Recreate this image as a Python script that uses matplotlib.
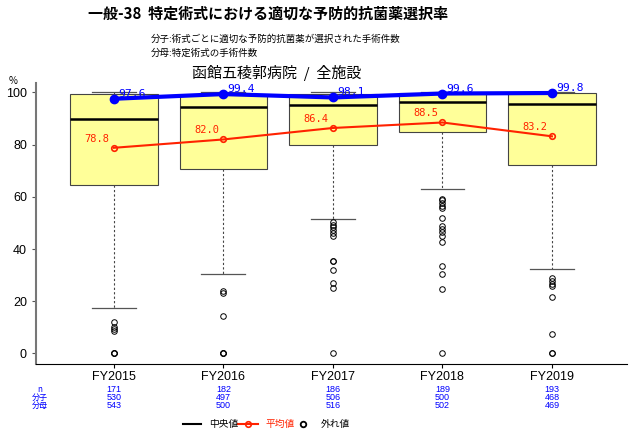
import matplotlib
matplotlib.use("Agg")
import matplotlib.pyplot as plt
from matplotlib.lines import Line2D

plt.rcParams['font.family'] = ['Noto Sans CJK JP', 'DejaVu Sans']
NARROW = ['Liberation Sans Narrow', 'Liberation Sans', 'DejaVu Sans']

years = ["FY2015", "FY2016", "FY2017", "FY2018", "FY2019"]
q1 = [64.5, 70.6, 79.8, 84.7, 72.3]
med = [89.9, 94.4, 95.3, 96.3, 95.6]
q3 = [99.3, 99.1, 99.5, 99.8, 99.8]
whislo = [17.4, 30.3, 51.4, 63.0, 32.5]
whishi = [100.0, 100.0, 100.0, 100.0, 100.0]
fliers = [
    [11.9, 10.2, 9.2, 8.7, 0, 0, 0],
    [24.0, 23.0, 14.2, 0, 0, 0],
    [50.3, 49.2, 48.3, 47.3, 46.3, 45.1, 35.5, 35.3, 32.0, 27.0, 25.2, 0],
    [59.2, 58.6, 57.6, 56.5, 55.9, 51.8, 48.9, 47.8, 46.7, 44.8, 42.7, 33.4, 30.3, 24.6, 0],
    [29.0, 27.7, 26.7, 25.7, 21.5, 7.3, 0, 0],
]
mean_all = [78.8, 82.0, 86.4, 88.5, 83.2]
hospital = [97.6, 99.4, 98.1, 99.6, 99.8]
n_vals = [171, 182, 186, 189, 193]
numer = [530, 497, 506, 500, 468]
denom = [543, 500, 516, 502, 469]

fig = plt.figure(figsize=(6.3, 4.36), dpi=100)
ax = fig.add_axes([0.057, 0.165, 0.938, 0.645])

pos = list(range(1, len(years) + 1))
stats = []
for i in range(len(years)):
    stats.append(dict(med=med[i], q1=q1[i], q3=q3[i], whislo=whislo[i],
                      whishi=whishi[i], fliers=fliers[i], label=years[i]))
ax.bxp(stats, positions=pos, widths=0.8, patch_artist=True, showfliers=True,
       boxprops=dict(facecolor='#FFFF99', edgecolor='#444444', linewidth=0.8),
       medianprops=dict(color='black', linewidth=1.8),
       whiskerprops=dict(color='#444444', linestyle=(0, (2, 2)), linewidth=0.8),
       capprops=dict(color='#555555', linewidth=0.9),
       capwidths=0.4,
       flierprops=dict(marker='o', markerfacecolor='none', markeredgecolor='black',
                       markersize=4, markeredgewidth=0.7))

ax.plot(pos, mean_all, color='#FF2200', linewidth=1.5, marker='o', markersize=4,
        markerfacecolor='none', markeredgecolor='#FF2200', markeredgewidth=1.2, zorder=5)
ax.plot(pos, hospital, color='#0000FF', linewidth=3, marker='o', markersize=6,
        markerfacecolor='#0000FF', markeredgecolor='#0000FF', zorder=6)

for x, v in zip(pos, mean_all):
    ax.annotate(f"{v:.1f}", (x, v), xytext=(-3, 3), textcoords='offset points',
                ha='right', va='bottom', color='#FF2200', fontsize=7.5,
                family=['DejaVu Sans Mono'])
for x, v in zip(pos, hospital):
    ax.annotate(f"{v:.1f}", (x, v), xytext=(3, 0), textcoords='offset points',
                ha='left', va='bottom', color='#0000FF', fontsize=8.2,
                family=['DejaVu Sans Mono'])

ax.set_xlim(0.288, 5.684)
ax.set_ylim(-4.1, 103.7)
ax.set_yticks([0, 20, 40, 60, 80, 100])
ax.set_xticks(pos)
ax.set_xticklabels(years, fontsize=9, family=NARROW)
for lab in ax.get_yticklabels():
    lab.set_family(NARROW)
ax.tick_params(axis='y', labelsize=9, length=3, color='#555555')
ax.tick_params(axis='x', length=3, pad=2)
for s in ['top', 'right']:
    ax.spines[s].set_visible(False)
ax.spines['left'].set_color('#777777')
ax.spines['left'].set_linewidth(1.5)
ax.spines['bottom'].set_color('black')

fig.text(9 / 630, 1 - 81 / 436, "%", fontsize=7, ha='left', va='center')

fig.text(268 / 630, 1 - 14 / 436, "一般-38  特定術式における適切な予防的抗菌薬選択率",
         fontsize=10.8, fontweight='bold', ha='center', va='center')
fig.text(151 / 630, 1 - 39 / 436, "分子:術式ごとに適切な予防的抗菌薬が選択された手術件数",
         fontsize=6.8, ha='left', va='center')
fig.text(151 / 630, 1 - 53 / 436, "分母:特定術式の手術件数",
         fontsize=6.8, ha='left', va='center')
fig.text(277 / 630, 1 - 73 / 436, "函館五稜郭病院  /  全施設",
         fontsize=10.8, ha='center', va='center')

# data table below the axis
row_y = [389, 397, 405]
row_lab = ["n", "分子", "分母"]
rows = [n_vals, numer, denom]
for ry, lab, vals in zip(row_y, row_lab, rows):
    fig.text(40 / 630, 1 - ry / 436, lab, fontsize=5.8, color='#0000FF', ha='center', va='center')
    for x, v in zip(pos, vals):
        xf = fig.transFigure.inverted().transform(ax.transData.transform((x, 0)))[0]
        fig.text(xf, 1 - ry / 436, str(v), fontsize=6.5, color='#0000FF', ha='center',
                 va='center', family=NARROW)

# legend
ly = 1 - 424 / 436
fig.add_artist(Line2D([183 / 630, 201 / 630], [ly, ly], color='black', linewidth=1.5,
                      transform=fig.transFigure))
fig.text(209 / 630, ly, "中央値", fontsize=7, ha='left', va='center')
fig.add_artist(Line2D([238 / 630, 258 / 630], [ly, ly], color='#FF2200', linewidth=1.5,
                      transform=fig.transFigure))
fig.add_artist(Line2D([248 / 630], [ly], color='#FF2200', marker='o', markersize=4,
                      markerfacecolor='none', markeredgewidth=1.2, linestyle='none',
                      transform=fig.transFigure))
fig.text(265 / 630, ly, "平均値", fontsize=7, color='#FF2200', ha='left', va='center')
fig.add_artist(Line2D([303 / 630], [ly], color='black', marker='o', markersize=4,
                      markerfacecolor='none', markeredgewidth=1.3, linestyle='none',
                      transform=fig.transFigure))
fig.text(321 / 630, ly, "外れ値", fontsize=7, ha='left', va='center')

fig.savefig("out.png", dpi=100)
